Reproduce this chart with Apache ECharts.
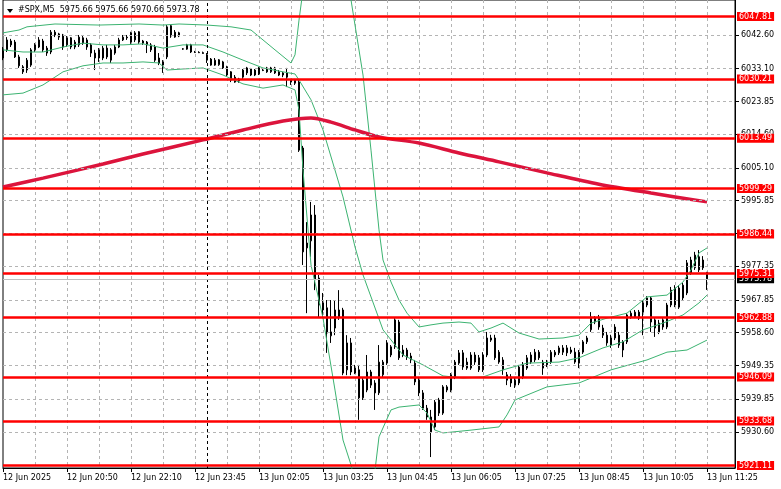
<!DOCTYPE html>
<html><head><meta charset="utf-8">
<script src="https://cdn.jsdelivr.net/npm/echarts@6/dist/echarts.min.js"></script>
<style>html,body{margin:0;padding:0;background:#fff}#c{width:781px;height:489px}</style>
</head><body><div id="c"></div>
<script>
// ---- data ----
const opens = [
6038.6,6038.4,6040.9,6040.6,6036.4,6033.6,6032.7,6034.1,6038.4,6039.2,
6040.9,6038.9,6037.8,6043.4,6042.9,6042.6,6039.8,6041.8,6039.2,6039.8,
6041.8,6041.2,6039.8,6037.5,6036.1,6036.1,6038.9,6038.4,6037.5,6039.2,
6041.2,6042.0,6043.2,6041.2,6043.5,6040.9,6040.6,6039.8,6039.2,6036.1,
6035.0,6036.4,6045.2,6043.4,6043.2,6038.6,6038.6,6039.8,6037.8,6037.7,
6037.6,6037.0,6035.8,6034.1,6034.2,6035.0,6033.6,6032.2,6030.7,6030.2,
6030.7,6033.3,6031.3,6032.7,6031.6,6032.7,6033.3,6032.2,6033.3,6032.2,
6031.9,6031.9,6029.9,6029.9,6029.3,6010.7,5982.5,5984.5,5991.8,5974.0,
5967.0,5965.6,5957.7,5959.9,5963.0,5965.0,5948.1,5955.7,5948.6,5948.1,
5940.2,5942.4,5943.8,5944.4,5941.6,5946.7,5950.0,5952.3,5954.6,5961.6,
5953.7,5953.7,5952.0,5950.0,5945.2,5941.6,5937.3,5934.8,5932.0,5935.9,
5935.9,5942.4,5942.4,5946.1,5950.0,5952.9,5950.3,5948.6,5952.3,5951.5,
5948.1,5952.3,5957.1,5957.1,5953.1,5950.9,5946.7,5946.1,5945.2,5944.4,
5946.1,5948.6,5950.3,5950.9,5953.1,5950.3,5949.5,5950.3,5952.3,5952.9,
5954.3,5954.3,5953.7,5953.1,5950.0,5953.1,5956.0,5959.4,5961.6,5962.7,
5959.9,5957.9,5957.1,5957.1,5957.9,5956.0,5956.0,5963.0,5963.0,5964.4,
5964.4,5966.4,5968.4,5962.2,5958.8,5962.2,5960.2,5966.4,5971.2,5965.8,
5972.0,5969.8,5979.1,5976.9,5980.0,5979.1,5975.66];
const highs = [
6039.2,6042.0,6041.5,6041.2,6037.0,6034.1,6036.1,6038.9,6040.3,6042.0,
6041.5,6039.5,6044.0,6044.0,6043.2,6042.9,6042.3,6042.0,6041.2,6042.6,
6042.3,6041.8,6040.3,6038.4,6038.9,6039.5,6039.8,6038.9,6039.8,6041.8,
6042.6,6042.6,6043.5,6043.7,6043.7,6041.2,6040.9,6040.3,6039.8,6037.5,
6035.5,6045.4,6045.4,6044.0,6043.5,6038.9,6040.1,6040.1,6038.1,6038.0,
6037.9,6037.5,6036.1,6036.1,6035.8,6035.3,6033.9,6032.4,6031.3,6030.5,
6033.0,6033.6,6033.3,6033.0,6033.6,6033.0,6033.6,6033.6,6033.6,6032.7,
6032.2,6033.3,6030.2,6030.2,6029.9,6011.3,5989.8,5995.5,5994.6,5974.9,
5969.8,5967.8,5967.8,5967.8,5970.6,5965.6,5957.9,5957.1,5949.5,5949.5,
5945.8,5952.3,5948.1,5945.2,5955.1,5950.9,5956.5,5955.1,5962.7,5962.2,
5955.1,5954.3,5952.9,5950.9,5946.1,5942.4,5938.2,5936.8,5939.6,5940.2,
5943.8,5943.8,5947.2,5950.9,5953.7,5953.7,5951.5,5953.1,5953.1,5952.3,
5953.1,5958.8,5958.0,5958.0,5953.7,5951.7,5947.5,5946.9,5946.1,5949.5,
5950.3,5952.3,5953.1,5954.0,5953.7,5950.9,5950.9,5953.7,5953.7,5954.9,
5955.1,5955.1,5954.6,5954.3,5953.7,5956.5,5957.7,5964.4,5963.3,5963.6,
5960.8,5958.8,5958.0,5961.0,5958.8,5956.5,5964.1,5964.7,5965.0,5965.0,
5967.8,5968.9,5968.9,5962.7,5962.2,5962.7,5967.0,5971.5,5972.0,5972.0,
5972.6,5979.1,5980.0,5981.4,5981.9,5980.2,5975.66];
const lows = [
6035.5,6037.8,6039.2,6036.1,6033.3,6031.6,6031.9,6033.6,6037.8,6038.9,
6037.8,6036.7,6037.2,6042.0,6041.2,6038.4,6039.2,6038.6,6038.6,6039.2,
6039.8,6038.4,6036.4,6032.7,6035.0,6035.5,6035.8,6034.7,6037.0,6038.9,
6040.9,6041.2,6040.1,6040.6,6040.1,6039.8,6037.5,6037.8,6035.0,6034.1,
6031.9,6035.8,6041.8,6041.8,6042.0,6038.4,6038.4,6037.5,6037.5,6037.5,
6037.3,6034.7,6033.9,6033.9,6033.9,6033.0,6031.0,6029.3,6029.1,6029.1,
6030.2,6031.3,6031.0,6031.0,6031.3,6032.4,6031.9,6031.9,6031.6,6031.0,
6030.7,6027.9,6028.5,6028.5,6009.6,5977.7,5964.1,5980.0,5970.6,5963.0,
5962.7,5952.9,5955.7,5957.9,5962.2,5946.6,5946.6,5946.6,5946.9,5934.0,
5939.6,5941.8,5943.0,5936.8,5941.0,5945.8,5949.5,5951.7,5954.0,5950.9,
5951.7,5950.9,5950.0,5943.8,5940.7,5936.8,5934.0,5923.5,5931.1,5935.1,
5935.4,5941.8,5941.8,5945.5,5949.5,5948.1,5948.1,5948.1,5949.5,5947.5,
5947.5,5951.7,5956.0,5950.9,5949.8,5946.7,5943.8,5943.3,5943.0,5943.8,
5945.5,5948.1,5949.8,5950.3,5950.9,5946.7,5948.9,5949.8,5951.7,5952.3,
5952.3,5952.0,5952.6,5949.8,5948.6,5952.6,5955.4,5958.8,5961.0,5959.4,
5957.1,5954.9,5954.3,5956.5,5954.3,5951.7,5955.4,5962.5,5962.7,5962.2,
5957.9,5965.8,5958.8,5957.4,5958.2,5959.4,5959.6,5965.8,5965.8,5965.3,
5967.8,5969.2,5974.9,5976.3,5975.7,5976.3,5970.66];
const closes = [
6036.1,6041.2,6039.8,6036.4,6033.9,6032.2,6035.5,6038.4,6039.8,6041.2,
6038.4,6037.5,6043.4,6042.6,6042.0,6039.2,6041.8,6039.2,6040.6,6042.0,
6040.3,6039.2,6037.5,6036.1,6038.4,6038.9,6036.4,6035.5,6039.2,6041.2,
6042.0,6041.8,6040.6,6043.2,6040.6,6040.3,6039.8,6038.4,6035.5,6034.7,
6034.1,6044.9,6042.3,6042.0,6042.3,6038.7,6039.8,6037.8,6037.7,6037.6,
6037.4,6035.5,6034.1,6035.5,6035.6,6033.3,6031.3,6029.9,6029.3,6029.6,
6032.7,6031.9,6033.0,6031.3,6033.3,6032.6,6032.2,6033.3,6031.9,6031.3,
6031.3,6030.7,6029.3,6029.0,6010.1,5981.4,5983.9,5991.8,5973.5,5966.4,
5965.0,5958.5,5958.8,5965.0,5965.0,5947.2,5955.7,5947.5,5947.2,5940.2,
5945.2,5947.5,5947.5,5941.6,5950.3,5950.3,5955.7,5954.6,5962.2,5951.5,
5952.3,5951.7,5950.9,5944.7,5941.6,5937.3,5934.8,5930.6,5939.0,5939.6,
5943.3,5943.3,5946.7,5950.3,5952.9,5948.9,5948.6,5952.3,5950.3,5948.1,
5952.3,5957.1,5956.5,5951.5,5950.3,5948.1,5945.2,5944.4,5943.8,5948.9,
5949.5,5951.5,5952.3,5953.1,5951.5,5948.6,5950.3,5953.1,5953.1,5954.3,
5953.1,5952.9,5953.1,5950.3,5953.1,5956.0,5957.1,5963.0,5962.7,5960.2,
5957.9,5955.7,5955.1,5960.2,5955.1,5953.7,5963.6,5964.1,5964.4,5962.7,
5967.0,5968.4,5961.6,5959.9,5961.3,5960.2,5966.4,5970.6,5966.4,5971.2,
5968.4,5978.3,5975.4,5980.5,5976.3,5976.9,5973.78];

// Bollinger bands and moving average, read as [bar index, price]
const bbUpper = [[0,6043.2],[4,6044.0],[6,6044.9],[13,6045.7],[24,6045.4],[34,6045.7],[40,6045.4],[44,6045.7],[51,6045.4],[57,6044.9],[62,6044.0],[68,6038.4],[72,6034.7],[73,6037.0],[74,6046.8],[75,6055.3],[77,6063.8],[82,6066.6],[86,6061.0],[87,6052.5],[88,6045.4],[90,6031.3],[92,6010.1],[94,5987.6],[95,5979.1],[97,5972.9],[99,5967.8],[101,5964.1],[104,5960.2],[107,5960.8],[110,5961.3],[114,5961.6],[117,5961.3],[119,5958.8],[122,5959.9],[125,5961.3],[129,5958.5],[134,5956.8],[140,5957.1],[144,5957.9],[147,5961.3],[151,5962.7],[156,5964.1],[161,5968.7],[166,5969.2],[170,5972.9],[172,5976.3],[174,5981.1],[176,5982.5]];
const bbMiddle = [[0,6038.4],[5,6037.8],[10,6037.8],[15,6039.2],[20,6040.3],[25,6039.8],[30,6039.8],[35,6040.1],[40,6038.9],[45,6039.8],[50,6039.8],[55,6037.8],[60,6035.5],[65,6033.3],[70,6032.2],[73,6031.6],[74,6029.9],[77,6024.3],[80,6015.8],[85,5996.9],[88,5982.8],[90,5974.9],[95,5959.4],[100,5952.3],[105,5949.5],[110,5946.4],[115,5945.8],[120,5946.1],[125,5948.1],[131,5950.0],[139,5950.3],[144,5951.5],[150,5954.3],[155,5956.0],[160,5959.4],[165,5961.3],[170,5963.6],[174,5967.0],[176,5969.2]];
const bbLower = [[0,6025.7],[5,6026.2],[10,6028.5],[15,6032.2],[20,6033.9],[25,6034.7],[30,6034.7],[35,6035.0],[39,6034.7],[41,6032.7],[45,6033.0],[50,6033.3],[55,6031.3],[60,6028.8],[65,6027.6],[70,6028.5],[73,6027.1],[74,6021.4],[75,6004.5],[77,5977.7],[80,5962.7],[83,5942.4],[85,5928.3],[87,5921.3],[89,5911.4],[91,5908.6],[93,5919.8],[94,5929.2],[97,5936.8],[99,5937.6],[104,5938.2],[106,5935.9],[108,5931.1],[110,5930.3],[117,5931.1],[124,5932.0],[126,5935.4],[128,5939.6],[136,5943.3],[144,5944.4],[152,5948.1],[161,5950.9],[166,5953.1],[171,5953.7],[176,5956.5]];
const maLine = [[0,5999.7],[10,6002.2],[25,6006.2],[35,6009.0],[50,6013.0],[60,6015.8],[70,6018.3],[77,6019.2],[82,6018.0],[88,6015.8],[94,6013.8],[104,6012.1],[114,6009.3],[124,6006.8],[136,6003.7],[149,6000.5],[162,5998.0],[176,5995.5]];

const levels = [6047.81,6030.21,6013.49,5999.29,5986.44,5975.31,5962.88,5946.09,5933.68,5921.11];
const yTicks = [6042.60,6033.10,6023.85,6014.60,6005.10,5995.85,5986.60,5977.35,5967.85,5958.60,5949.35,5939.85,5930.60];
const xLabels = ['12 Jun 2025','12 Jun 20:50','12 Jun 22:10','12 Jun 23:45','13 Jun 02:05','13 Jun 03:25','13 Jun 04:45','13 Jun 06:05','13 Jun 07:25','13 Jun 08:45','13 Jun 10:05','13 Jun 11:25'];
const bidPrice = 5973.78;
const daySeparatorBar = 51;
const symbolName = '#SPX,M5';

// ---- chart ----
const FONT = 'DejaVu Sans';
const N = 184, LABEL_STEP = 16, GRID_STEP = 8, LAST = closes.length - 1;
const Y_MIN = 5920.41, Y_MAX = 6052.47;
const cats = Array.from({length: N}, (_, i) => String(i));
const ohlc = opens.map((o, i) => [o, closes[i], lows[i], highs[i]]);
const isLabel = (i) => i % LABEL_STEP === 0 && i <= LAST;

const chart = echarts.init(document.getElementById('c'), null, {renderer: 'canvas'});
const title = symbolName + '  ' + [opens[LAST], highs[LAST], lows[LAST], closes[LAST]].map(v => v.toFixed(2)).join(' ');

chart.setOption({
  animation: false,
  backgroundColor: '#ffffff',
  grid: {left: 3, right: 46, top: 0, bottom: 21, show: true, borderColor: '#000', borderWidth: 1, backgroundColor: '#fff'},
  xAxis: {
    type: 'category', data: cats, boundaryGap: false,
    axisLine: {show: true, lineStyle: {color: '#000', width: 1}},
    axisTick: {show: true, length: 4, interval: isLabel, lineStyle: {color: '#000'}},
    axisLabel: {interval: isLabel, formatter: (v, i) => xLabels[i / LABEL_STEP] || '', align: 'left', margin: 6,
      color: '#000', fontFamily: FONT, fontSize: 8},
    splitLine: {show: true, interval: (i) => i % GRID_STEP === 0 && i > 0, lineStyle: {color: '#b4b4b4', type: [3, 3], width: 1}}
  },
  yAxis: {
    type: 'value', position: 'right', min: Y_MIN, max: Y_MAX, scale: true,
    axisLine: {show: true, lineStyle: {color: '#000'}},
    axisTick: {show: true, length: 4, customValues: yTicks, lineStyle: {color: '#000'}},
    axisLabel: {customValues: yTicks, margin: 6, color: '#000', fontFamily: FONT, fontSize: 8, formatter: v => v.toFixed(2)},
    splitLine: {show: false}
  },
  graphic: [
    {type: 'polygon', shape: {points: [[7, 9], [13, 9], [10, 13]]}, style: {fill: '#000'}, z: 100},
    {type: 'text', left: 18, top: 6, style: {text: title, font: '8px "DejaVu Sans"', fill: '#000'}, z: 100}
  ],
  series: [
    {
      name: 'grid', type: 'line', z: 1, data: [[0, closes[0]]], symbol: 'none', lineStyle: {opacity: 0}, silent: true,
      markLine: {
        silent: true, symbol: ['none', 'none'], animation: false,
        data: [
          ...yTicks.map(v => ({yAxis: v, lineStyle: {color: '#b4b4b4', type: [3, 3], width: 1}, label: {show: false}})),
          {xAxis: daySeparatorBar, lineStyle: {color: '#000', type: [3, 3], width: 1}, label: {show: false}},
          {yAxis: bidPrice, lineStyle: {color: '#c0c0c0', type: 'solid', width: 1},
           label: {show: true, position: 'end', distance: 2, formatter: p => Number(p.value).toFixed(2),
             backgroundColor: '#000', color: '#fff', padding: [1, 2, 0, 2], fontFamily: FONT, fontSize: 8}}
        ]
      }
    },
    {
      name: 'SPX', type: 'candlestick', z: 3, data: ohlc, barWidth: 2,
      itemStyle: {color: '#ffffff', color0: '#000000', borderColor: '#000000', borderColor0: '#000000', borderWidth: 1}
    },
    {name: 'BB up', type: 'line', z: 4, data: bbUpper, symbol: 'none', lineStyle: {color: '#3cb371', width: 1}, silent: true},
    {name: 'BB mid', type: 'line', z: 4, data: bbMiddle, symbol: 'none', lineStyle: {color: '#3cb371', width: 1}, silent: true},
    {name: 'BB low', type: 'line', z: 4, data: bbLower, symbol: 'none', lineStyle: {color: '#3cb371', width: 1}, silent: true},
    {name: 'MA', type: 'line', z: 4, data: maLine, symbol: 'none', smooth: 0.3, lineStyle: {color: '#dc143c', width: 3.5}, silent: true},
    {
      name: 'levels', type: 'line', z: 5, data: [[0, closes[0]]], symbol: 'none', lineStyle: {opacity: 0}, silent: true,
      markLine: {
        silent: true, symbol: ['none', 'none'], animation: false,
        lineStyle: {color: '#ff0000', width: 2.5, type: 'solid'},
        label: {show: true, position: 'end', distance: 2, formatter: p => Number(p.value).toFixed(2),
          backgroundColor: '#ff0000', color: '#fff', padding: [1, 2, 0, 2], fontFamily: FONT, fontSize: 8},
        data: levels.map(v => ({yAxis: v}))
      }
    }
  ]
});
</script>
</body></html>
